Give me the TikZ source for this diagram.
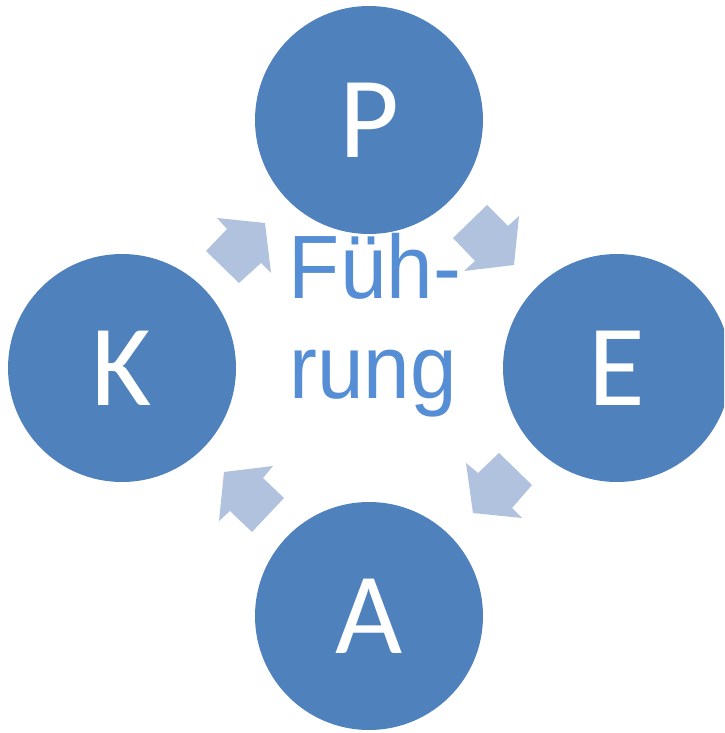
\documentclass[tikz,border=0pt]{standalone}
\usepackage{fontspec}
\setmainfont{Carlito}
\newfontfamily\centerfont{Liberation Sans}
\definecolor{circblue}{HTML}{4F81BD}
\definecolor{arrowblue}{HTML}{B0C2DE}
\definecolor{textblue}{HTML}{558ED5}
\tikzset{
  bigcirc/.style={circle, fill=circblue, draw=none, minimum size=228pt, inner sep=0pt, text=white, font=\fontsize{116}{116}\selectfont},
  cyclearrow/.style={fill=arrowblue, draw=none},
  centertext/.style={anchor=base, text=textblue, inner sep=0pt, font=\centerfont\fontsize{90}{100}\selectfont}
}
\begin{document}
\begin{tikzpicture}[x=1pt,y=-1pt]
\clip (0,0) rectangle (724,733);
\node[bigcirc] (P) at (369,120) {P};
\node[bigcirc] (K) at (122,368) {K};
\node[bigcirc] (E) at (617,368) {E};
\node[bigcirc] (A) at (369,616) {A};
\node[centertext] (t1) at (375,298) {\scalebox{0.93}[1]{Füh-}};
\node[centertext] (t2) at (373,398) {\scalebox{0.93}[1]{rung}};
% arrows
\fill[cyclearrow] (487,205) -- (453,238) -- (475,261) -- (464,271) -- (514,265) -- (519,216) -- (508,226) -- cycle;
\fill[cyclearrow] (466,463) -- (478,473) -- (499,453) -- (532,485) -- (512,508) -- (522,518) -- (473,513) -- cycle;
\fill[cyclearrow] (224,472) -- (273,466) -- (263,478) -- (284,498) -- (252,532) -- (230,511) -- (219,521) -- cycle;
\fill[cyclearrow] (217,218) -- (265,223) -- (271,273) -- (261,263) -- (239,283) -- (206,251) -- (227,229) -- cycle;
\end{tikzpicture}
\end{document}
